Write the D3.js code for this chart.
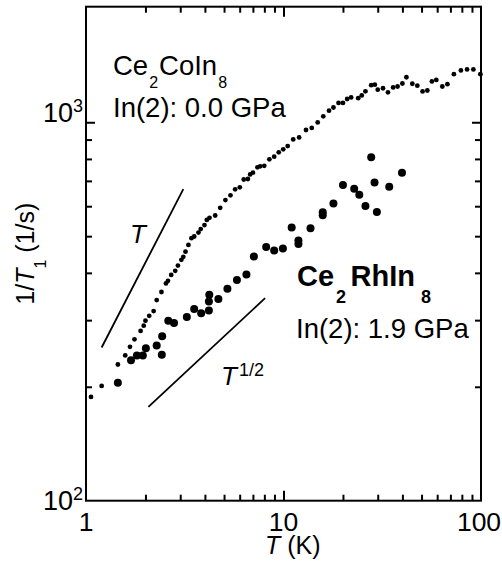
<!DOCTYPE html>
<html>
<head>
<meta charset="utf-8">
<title>1/T1 vs T</title>
<script src="https://d3js.org/d3.v7.min.js"></script>
<style>
  body { margin: 0; background: #fff; }
  svg text { font-family: "Liberation Sans", Arial, sans-serif; fill: #000; }
  .frame { fill: none; stroke: #000; stroke-width: 2; }
  .tick line { stroke: #000; stroke-width: 2; }
  .guide { stroke: #000; stroke-width: 1.8; fill: none; }
</style>
</head>
<body>
<svg id="chart" width="502" height="566"></svg>
<script>
// Ce2CoIn8, In(2) site, 0.0 GPa : T (K) and 1/T1 (1/s)
var coT = [1.06, 1.20, 1.45, 1.58, 1.67, 1.76, 1.89, 1.96, 2.00, 2.09,
  2.20, 2.28, 2.41, 2.54, 2.60, 2.70, 2.83, 2.92, 3.04, 3.11,
  3.19, 3.30, 3.42, 3.53, 3.71, 3.81, 3.98, 4.09, 4.22, 4.51,
  4.78, 5.08, 5.39, 5.69, 6.01, 6.29, 6.60, 6.78, 7.00, 7.38,
  7.62, 7.99, 8.48, 8.97, 9.46, 9.97, 10.5, 11.2, 12.0, 13.0,
  13.9, 14.9, 15.9, 17.0, 17.9, 19.0, 20.0, 21.0, 22.0, 23.9,
  24.9, 26.0, 27.8, 29.0, 30.0, 31.9, 33.8, 35.9, 37.8, 40.0,
  41.9, 44.9, 47.6, 50.6, 53.5, 56.4, 59.4, 63.7, 67.6, 72.9,
  79.1, 85.0, 91.5, 99.3];
var coRate = [188, 201, 229, 242, 255, 267, 281, 290, 299, 308,
  317, 339, 356, 375, 381, 395, 405, 418, 433, 441,
  455, 474, 494, 499, 511, 522, 535, 552, 559, 567,
  594, 623, 641, 665, 673, 706, 708, 728, 736, 760,
  765, 767, 798, 811, 833, 848, 865, 901, 912, 954,
  966, 999, 1037, 1073, 1094, 1125, 1125, 1152, 1163, 1158,
  1177, 1207, 1253, 1257, 1219, 1230, 1200, 1236, 1243, 1266,
  1315, 1264, 1249, 1206, 1213, 1282, 1294, 1243, 1261, 1340,
  1371, 1379, 1379, 1340];

// Ce2RhIn8, In(2) site, 1.9 GPa
var rhT = [1.45, 1.69, 1.81, 1.94, 2.01, 2.28, 2.42, 2.43, 2.61, 2.79,
  3.24, 3.53, 3.83, 4.19, 4.19, 4.21, 4.68, 5.20, 5.81, 6.49,
  7.08, 8.17, 8.97, 9.93, 11.0, 11.9, 11.9, 13.7, 15.8, 15.8,
  17.9, 20.0, 22.8, 24.2, 26.0, 27.8, 28.9, 29.7, 34.3, 39.8];
var rhRate = [205, 235, 242, 242, 253, 257, 243, 272, 299, 295,
  306, 321, 313, 318, 336, 350, 341, 363, 383, 396,
  442, 468, 458, 464, 527, 487, 477, 525, 578, 568,
  610, 683, 667, 643, 601, 808, 693, 579, 675, 735];

// power-law guide lines: T and T^(1/2)
var lineT = [1.20, 3.11], lineTRate = [254, 666];
var lineHalfT = [2.07, 8.07], lineHalfRate = [177, 343];

// axis limits and ticks
var xLimits = [1, 100];
var yLimits = [100, 2020];
var xMinor = [2, 3, 4, 5, 6, 7, 8, 9, 20, 30, 40, 50, 60, 70, 80, 90];
var xMajor = [10];
var xLabels = ["1", "10", "100"];
var yMinor = [200, 300, 400, 500, 600, 700, 800, 900];
var yMajor = [1000];
var yLabelExp = ["2", "3"];

var svg = d3.select("#chart");
var pLeft = 86, pRight = 481, pTop = 6.7, pBottom = 500.7;

var x = d3.scaleLog().domain(xLimits).range([pLeft, pRight]);
var y = d3.scaleLog().domain(yLimits).range([pBottom, pTop]);

// inward ticks on all four sides
function ticks(axis, vals, len, tr) {
  svg.append("g")
    .attr("transform", tr)
    .call(axis.tickValues(vals).tickSize(-len).tickFormat(""))
    .call(g => g.select(".domain").remove());
}
ticks(d3.axisBottom(x), xMinor, 6, "translate(0," + pBottom + ")");
ticks(d3.axisBottom(x), xMajor, 10, "translate(0," + pBottom + ")");
ticks(d3.axisTop(x), xMinor, 6, "translate(0," + pTop + ")");
ticks(d3.axisTop(x), xMajor, 10, "translate(0," + pTop + ")");
ticks(d3.axisLeft(y), yMinor, 6, "translate(" + pLeft + ",0)");
ticks(d3.axisLeft(y), yMajor, 9, "translate(" + pLeft + ",0)");
ticks(d3.axisRight(y), yMinor, 6, "translate(" + pRight + ",0)");
ticks(d3.axisRight(y), yMajor, 9, "translate(" + pRight + ",0)");

svg.append("rect").attr("class", "frame")
  .attr("x", pLeft).attr("y", pTop)
  .attr("width", pRight - pLeft).attr("height", pBottom - pTop);

// x tick labels (last one kept inside the page)
svg.selectAll(".xlab").data(xLabels).enter().append("text")
  .attr("x", d => Math.min(x(+d), 479)).attr("y", 531)
  .attr("text-anchor", "middle").attr("font-size", 26.5)
  .text(d => d);

// y tick labels 10^2, 10^3
var yl = svg.selectAll(".ylab").data(yLabelExp).enter().append("text")
  .attr("x", 83)
  .attr("y", d => d === "3" ? y(1000) : y(100) + 9)
  .attr("text-anchor", "end").attr("font-size", 27);
yl.append("tspan").text("10");
yl.append("tspan").attr("font-size", 18).attr("dy", -10).text(d => d);

// axis titles
var xt = svg.append("text").attr("x", 265).attr("y", 554).attr("font-size", 25);
xt.append("tspan").attr("font-style", "italic").text("T");
xt.append("tspan").text(" (K)");

var yt = svg.append("text")
  .attr("transform", "translate(34," + ((pTop + pBottom) / 2) + ") rotate(-90)")
  .attr("text-anchor", "middle").attr("font-size", 25);
yt.append("tspan").text("1/");
yt.append("tspan").attr("font-style", "italic").text("T");
yt.append("tspan").attr("font-size", 16).attr("dy", 12).text("1");
yt.append("tspan").attr("dy", -12).text(" (1/s)");

// guide lines
svg.append("line").attr("class", "guide")
  .attr("x1", x(lineT[0])).attr("y1", y(lineTRate[0]))
  .attr("x2", x(lineT[1])).attr("y2", y(lineTRate[1]));
svg.append("line").attr("class", "guide")
  .attr("x1", x(lineHalfT[0])).attr("y1", y(lineHalfRate[0]))
  .attr("x2", x(lineHalfT[1])).attr("y2", y(lineHalfRate[1]));

// data
svg.append("g").selectAll("circle").data(coT).enter().append("circle")
  .attr("cx", d => x(d)).attr("cy", (d, i) => y(coRate[i]))
  .attr("r", 2.4).attr("fill", "#000");
svg.append("g").selectAll("circle").data(rhT).enter().append("circle")
  .attr("cx", d => x(d)).attr("cy", (d, i) => y(rhRate[i]))
  .attr("r", 4).attr("fill", "#000");

// annotations
var t1 = svg.append("text").attr("x", 113).attr("y", 75).attr("font-size", 27.5);
t1.append("tspan").text("Ce");
t1.append("tspan").attr("font-size", 16).attr("dy", 13).attr("dx", 1).text("2");
t1.append("tspan").attr("dy", -13).attr("dx", 1).text("CoIn");
t1.append("tspan").attr("font-size", 16).attr("dy", 13).attr("dx", 1).text("8");
svg.append("text").attr("x", 113).attr("y", 117).attr("font-size", 27.5)
  .text("In(2): 0.0 GPa");

var t2 = svg.append("text").attr("x", 297).attr("y", 286)
  .attr("font-size", 29).attr("font-weight", "bold");
t2.append("tspan").text("Ce");
t2.append("tspan").attr("font-size", 18).attr("dy", 17).attr("dx", 2).text("2");
t2.append("tspan").attr("dy", -17).attr("dx", 4.5).text("RhIn");
t2.append("tspan").attr("font-size", 18).attr("dy", 17).attr("dx", 6).text("8");
svg.append("text").attr("x", 296).attr("y", 338).attr("font-size", 27.5)
  .text("In(2): 1.9 GPa");

svg.append("text").attr("x", 130).attr("y", 243).attr("font-size", 26)
  .attr("font-style", "italic").text("T");
var t3 = svg.append("text").attr("x", 221).attr("y", 385).attr("font-size", 26);
t3.append("tspan").attr("font-style", "italic").text("T");
t3.append("tspan").attr("font-size", 18).attr("dy", -9).attr("dx", 2).text("1/2");
</script>
</body>
</html>
